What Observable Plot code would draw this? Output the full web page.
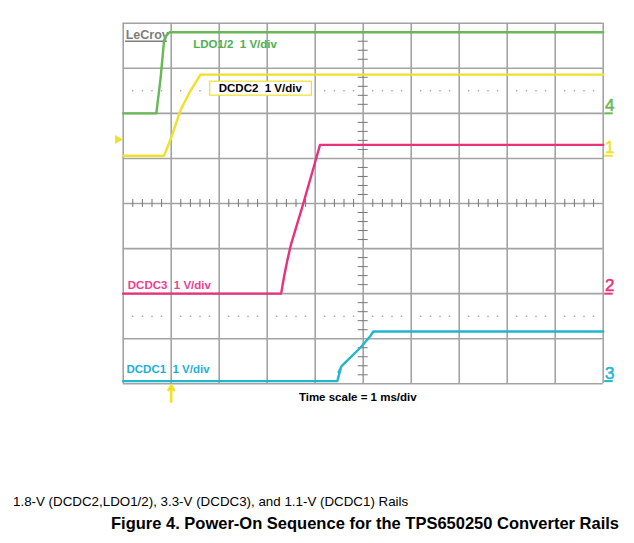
<!DOCTYPE html>
<html><head><meta charset="utf-8">
<script src="https://cdn.jsdelivr.net/npm/d3@7"></script>
<script src="https://cdn.jsdelivr.net/npm/@observablehq/plot@0.6"></script>
<style>
body{margin:0;background:#fff;font-family:"Liberation Sans",Arial,sans-serif;}
#wrap{position:relative;width:634px;height:543px;overflow:hidden;}
#chart{position:absolute;left:0;top:0;}
.cap{position:absolute;white-space:nowrap;line-height:1;color:#000;}
#sub{left:13px;top:495px;font-size:13.35px;}
#title{right:15px;top:515px;font-size:16.5px;font-weight:bold;}
</style></head><body>
<div id="wrap"><div id="chart"></div>
<div class="cap" id="sub">1.8-V (DCDC2,LDO1/2), 3.3-V (DCDC3), and 1.1-V (DCDC1) Rails</div>
<div class="cap" id="title">Figure 4. Power-On Sequence for the TPS650250 Converter Rails</div>
</div>
<script>
// ---- data (time in ms, voltage in V) ----
const channelNames = ["DCDC2", "DCDC3", "DCDC1", "LDO1/2"];
const channelNumbers = ["1", "2", "3", "4"];
const groundDivs = [5.06, 2.0, 0.06, 6.0];   // trace ground level, in divisions from bottom
const voltsPerDiv = [1, 1, 1, 1];
const timeTicks = [0, 1, 2, 3, 4, 5, 6, 7, 8, 9, 10];   // 1 ms/div
const divTicks = [0, 1, 2, 3, 4, 5, 6, 7, 8];

const tDCDC2 = [0, 0.85, 0.99, 1.19, 1.40, 1.61, 10];
const vDCDC2 = [0, 0, 0.37, 1.0, 1.44, 1.8, 1.8];

const tDCDC3 = [0, 3.29, 3.35, 3.42, 3.49, 3.73, 3.97, 4.10, 10];
const vDCDC3 = [0, 0, 0.37, 0.74, 1.07, 1.92, 2.81, 3.3, 3.3];

const tDCDC1 = [0, 4.46, 4.53, 4.49, 4.55, 4.94, 5.15, 5.21, 10];
const vDCDC1 = [0, 0, 0.27, 0.2, 0.33, 0.74, 1.0, 1.1, 1.1];

const tLDO = [0, 0.69, 0.78, 0.85, 0.88, 0.97, 10];
const vLDO = [0, 0, 0.79, 1.6, 1.71, 1.8, 1.8];

const triggerTime = 1.0;      // ms
const triggerLevelV = 0.36;   // V on channel 1

// ---- build ----
const colors = {"DCDC2": "#efe12a", "DCDC3": "#e8317c", "DCDC1": "#22b5cc", "LDO1/2": "#66b955"};
const textColors = {"DCDC2": "#000", "DCDC3": "#ee3f8f", "DCDC1": "#1cb0da", "LDO1/2": "#4cb04e"};
const series = {"DCDC2": [tDCDC2, vDCDC2], "DCDC3": [tDCDC3, vDCDC3], "DCDC1": [tDCDC1, vDCDC1], "LDO1/2": [tLDO, vLDO]};
const gnd = Object.fromEntries(channelNames.map((c, i) => [c, groundDivs[i]]));
const vpd = Object.fromEntries(channelNames.map((c, i) => [c, voltsPerDiv[i]]));

const traces = [];
for (const c of ["LDO1/2", "DCDC2", "DCDC3", "DCDC1"]) {
  const [ts, vs] = series[c];
  ts.forEach((t, i) => traces.push({ch: c, t, d: gnd[c] + vs[i] / vpd[c]}));
}

const W = 634, H = 410, ML = 122.7, MR = 31.3, MT = 22.7, MB = 26.7;
const pxX = (W - ML - MR) / (timeTicks.length - 1);
const pxY = (H - MT - MB) / (divTicks.length - 1);
const px2x = p => p / pxX, px2y = p => p / pxY;

const minor = [];
for (let k = 0; k < 50; k++) if (k % 5) minor.push(k / 5);
const minorY = [];
for (let k = 0; k < 40; k++) if (k % 5) minorY.push(k / 5);

const midX = timeTicks[5], midY = divTicks[4];

const labelPos = [
  {ch: "LDO1/2", t: 1.458, d: 7.45},
  {ch: "DCDC2", t: 1.99, d: 6.47},
  {ch: "DCDC3", t: 0.096, d: 2.11},
  {ch: "DCDC1", t: 0.069, d: 0.246}
];
const markers = channelNames.map((c, i) => ({ch: c, num: channelNumbers[i], d: gnd[c]}));

const grid = "#a3a3a3";
const plot = Plot.plot({
  width: W, height: H,
  marginLeft: ML, marginRight: MR, marginTop: MT, marginBottom: MB,
  x: {domain: [timeTicks[0], timeTicks[timeTicks.length - 1]], axis: null},
  y: {domain: [divTicks[0], divTicks[divTicks.length - 1]], axis: null},
  style: {fontFamily: "'Liberation Sans', Arial, sans-serif", background: "#fff", overflow: "visible"},
  marks: [
    Plot.ruleX(timeTicks, {stroke: grid, strokeWidth: 1.6}),
    Plot.ruleY(divTicks, {stroke: grid, strokeWidth: 1.6}),
    Plot.ruleX(minor, {x: d => d, y1: midY - px2y(4), y2: midY + px2y(4), stroke: "#777", strokeWidth: 1}),
    Plot.ruleY(minorY, {y: d => d, x1: midX - px2x(5), x2: midX + px2x(5), stroke: "#777", strokeWidth: 1}),
    Plot.dot(minor, {x: d => d, y: 6.5, r: 0.8, fill: "#999", stroke: null}),
    Plot.dot(minor, {x: d => d, y: 1.5, r: 0.8, fill: "#999", stroke: null}),
    Plot.text(["LeCroy"], {x: 0, y: 7.66, dx: 2.5, text: d => d, textAnchor: "start", lineAnchor: "bottom", fontSize: 12.5, fontWeight: "bold", fill: "#7d7d7d", className: "logo"}),
    Plot.ruleY([7.60], {x1: 0.05, x2: 0.92, stroke: "#7d7d7d", strokeWidth: 1.5}),
    Plot.line(traces, {x: "t", y: "d", z: "ch", stroke: d => colors[d.ch], strokeWidth: 2.4, curve: "linear"}),
    Plot.text(labelPos, {x: "t", y: "d", text: d => d.ch + "\u00a0 1 V/div", textAnchor: "start", lineAnchor: "bottom", fontSize: 11.5, fontWeight: "bold", fill: d => textColors[d.ch], className: "chlabel"}),
    Plot.text(markers, {x: timeTicks[timeTicks.length - 1], y: "d", text: "num", dx: 1.8, dy: -2.5, textAnchor: "start", lineAnchor: "bottom", fontSize: 17, fill: d => colors[d.ch], stroke: d => colors[d.ch], strokeWidth: 0.5}),
    Plot.ruleY(markers, {y: "d", x1: timeTicks[timeTicks.length - 1] + px2x(1.5), x2: timeTicks[timeTicks.length - 1] + px2x(10), stroke: d => colors[d.ch], strokeWidth: 2}),
    Plot.dot([triggerLevelV], {x: timeTicks[0], y: d => gnd["DCDC2"] + d / vpd["DCDC2"], dx: -5.5, symbol: "triangle", rotate: 90, r: 3.3, fill: colors["DCDC2"], stroke: null}),
    Plot.arrow([triggerTime], {x1: d => d, x2: d => d, y1: -px2y(18), y2: -px2y(1.5), stroke: colors["DCDC2"], strokeWidth: 2.6, headLength: 7}),
    Plot.text(["Time scale = 1 ms/div"], {x: 3.66, y: -px2y(17.4), text: d => d, textAnchor: "start", lineAnchor: "bottom", fontSize: 11.5, fontWeight: "bold", fill: "#000"})
  ]
});
document.getElementById("chart").append(plot);

// white box with yellow border behind the DCDC2 label
d3.select(plot).selectAll("g.chlabel text").each(function() {
  if (this.textContent.startsWith("DCDC2")) {
    const b = this.getBBox();
    const r = d3.select(this.parentNode).insert("rect", () => this)
      .attr("x", b.x - 9).attr("y", b.y - 1).attr("width", b.width + 18).attr("height", b.height + 2)
      .attr("fill", "#fff").attr("stroke", colors["DCDC2"]).attr("stroke-width", 1.2);
    const tr = this.getAttribute("transform");
    if (tr) r.attr("transform", tr);
  }
});
</script>
</body></html>
